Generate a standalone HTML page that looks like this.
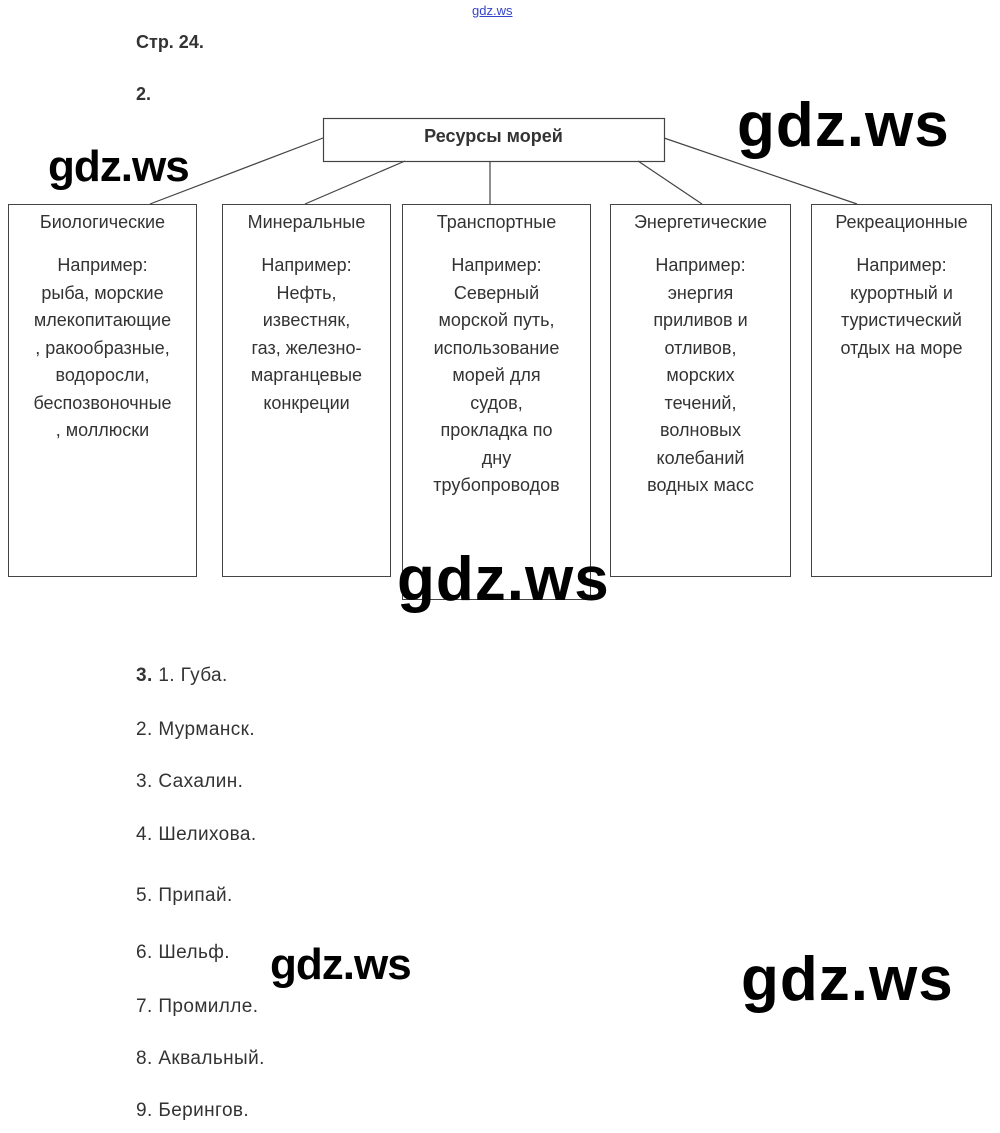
<!DOCTYPE html>
<html><head><meta charset="utf-8"><style>
body{margin:0;width:1000px;height:1133px;background:#fff;position:relative;font-family:"Liberation Sans",sans-serif;color:#222;overflow:hidden}
.a{position:absolute}
.box{position:absolute;border:1px solid #444;box-sizing:border-box;text-align:center;font-size:18px;color:#333;top:204px;height:373px}
.box .h{margin-top:7px}
.box .b{margin-top:19px;line-height:27.5px}
.wm{position:absolute;font-family:"Liberation Sans",sans-serif;color:#000;font-weight:bold;letter-spacing:-1px}
.big{letter-spacing:1px}
.l{position:absolute;left:136px;font-size:19px;letter-spacing:0.4px;color:#333}
</style></head><body>
<div class="a" style="left:472px;top:3px;font-size:13px;color:#3344cc;text-decoration:underline">gdz.ws</div>
<div class="a" style="left:136px;top:32px;font-size:18px;font-weight:bold;color:#333">Стр. 24.</div>
<div class="a" style="left:136px;top:84px;font-size:18px;font-weight:bold;color:#333">2.</div>
<svg class="a" style="left:0;top:0" width="1000" height="620">
<g stroke="#444" stroke-width="1.2" fill="none">
<rect x="323.5" y="118.5" width="341" height="43"/>
<line x1="323" y1="138" x2="150" y2="204"/>
<line x1="405" y1="161" x2="305" y2="204"/>
<line x1="490" y1="161" x2="490" y2="204"/>
<line x1="638" y1="161" x2="702" y2="204"/>
<line x1="664" y1="138" x2="857" y2="204"/>
</g></svg>
<div class="a" style="left:323px;top:126px;width:341px;text-align:center;font-size:18px;font-weight:bold;color:#333">Ресурсы морей</div>
<div class="box" style="left:8px;width:189px"><div class="h">Биологические</div><div class="b">Например:<br>рыба, морские<br>млекопитающие<br>, ракообразные,<br>водоросли,<br>беспозвоночные<br>, моллюски</div></div>
<div class="box" style="left:222px;width:169px"><div class="h">Минеральные</div><div class="b">Например:<br>Нефть,<br>известняк,<br>газ, железно-<br>марганцевые<br>конкреции</div></div>
<div class="box" style="left:402px;width:189px;height:396px"><div class="h">Транспортные</div><div class="b">Например:<br>Северный<br>морской путь,<br>использование<br>морей для<br>судов,<br>прокладка по<br>дну<br>трубопроводов</div></div>
<div class="box" style="left:610px;width:181px"><div class="h">Энергетические</div><div class="b">Например:<br>энергия<br>приливов и<br>отливов,<br>морских<br>течений,<br>волновых<br>колебаний<br>водных масс</div></div>
<div class="box" style="left:811px;width:181px"><div class="h">Рекреационные</div><div class="b">Например:<br>курортный и<br>туристический<br>отдых на море</div></div>
<div class="wm" style="left:48px;top:142px;font-size:44px">gdz.ws</div>
<div class="wm big" style="left:737px;top:90px;font-size:62px">gdz.ws</div>
<div class="wm big" style="left:397px;top:544px;font-size:62px">gdz.ws</div>
<div class="wm" style="left:270px;top:940px;font-size:44px">gdz.ws</div>
<div class="wm big" style="left:741px;top:944px;font-size:62px">gdz.ws</div>
<div class="l" style="top:665px"><b>3.</b> 1. Губа.</div>
<div class="l" style="top:719px">2. Мурманск.</div>
<div class="l" style="top:771px">3. Сахалин.</div>
<div class="l" style="top:824px">4. Шелихова.</div>
<div class="l" style="top:885px">5. Припай.</div>
<div class="l" style="top:942px">6. Шельф.</div>
<div class="l" style="top:996px">7. Промилле.</div>
<div class="l" style="top:1048px">8. Аквальный.</div>
<div class="l" style="top:1100px">9. Берингов.</div>
</body></html>
